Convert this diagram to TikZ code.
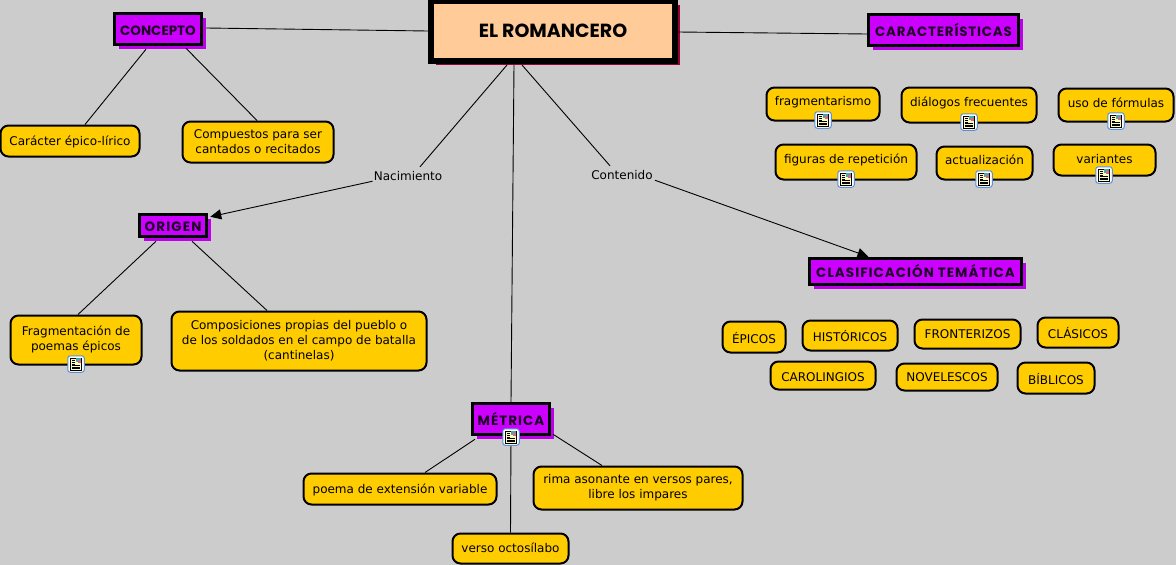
\documentclass[tikz,border=0pt]{standalone}
\usepackage{fontspec}
\setmainfont{DejaVu Sans}
\newfontfamily\titlefont{Poppins}
\usetikzlibrary{arrows.meta,shadows}
\definecolor{bgc}{HTML}{CCCCCC}
\definecolor{peach}{HTML}{FFCC99}
\definecolor{violet1}{HTML}{CC00FF}
\definecolor{gold}{HTML}{FFCC00}
\definecolor{crim}{HTML}{990033}
\definecolor{iconblue}{HTML}{5A8FD8}
\newcommand{\widen}[2]{{\addfontfeature{LetterSpace=#1}#2}}
\tikzset{
  x=1pt,y=-1pt,
  basebox/.style={inner sep=0pt,align=center,text height=10pt,text depth=0pt},
  rootbox/.style={basebox,draw=black,fill=peach,line width=6pt,sharp corners,
    text height=12pt,text depth=0pt,
    font=\titlefont\bfseries\fontsize{19}{20}\selectfont,
    general shadow={shadow xshift=4.5pt,shadow yshift=-4pt,fill=crim}},
  titlebox/.style={basebox,draw=black,fill=violet1,line width=3.5pt,
    text height=12pt,text depth=0pt,text=black!85!violet1,
    font=\titlefont\bfseries\fontsize{13.5}{16}\selectfont,
    general shadow={shadow xshift=4.5pt,shadow yshift=-4.5pt,fill=violet1!92!black}},
  leafbox/.style={basebox,draw=black,fill=gold,line width=2pt,rounded corners=8pt,
    font=\fontsize{12}{15}\selectfont},
  multiline/.style={text height=,text depth=},
  raised/.style={text depth=7pt},
  raisedmore/.style={text depth=8pt},
  raisedsix/.style={text depth=6pt},
  raisedfour/.style={text depth=4pt},
  upone/.style={text depth=2pt},
  downone/.style={text height=12pt},
  linklabel/.style={inner sep=0pt,font=\fontsize{12}{14}\selectfont,text height=10pt,text depth=0pt},
  conn/.style={draw=black,line width=0.9pt},
  arrowconn/.style={conn,-{Triangle[length=11pt,width=10pt]}},
  iconbox/.style={draw=iconblue,fill=white,line width=1pt,rounded corners=2.5pt,minimum width=16.5pt,minimum height=16.5pt,inner sep=0pt},
}
\newcommand{\areanode}[8]{%
  \pgfmathsetmacro{\nw}{#5-#3-#2}%
  \pgfmathsetmacro{\nh}{#6-#4-#2}%
  \pgfmathsetmacro{\nx}{(#3+#5)/2}%
  \pgfmathsetmacro{\ny}{(#4+#6)/2}%
  \node[#1,minimum width=\nw pt,minimum height=\nh pt] (#7) at (\nx,\ny) {#8};}
\newcommand{\leafnode}[7][]{\areanode{leafbox,#1}{1}{#3}{#4}{#5}{#6}{#2}{#7}}
\newcommand{\titlenode}[6]{\areanode{titlebox}{3}{#2}{#3}{#4}{#5}{#1}{#6}}
\newcommand{\docicon}[3]{%
  \node[iconbox] (#1) at (#2,#3) {};
  \begin{scope}[shift={(#2,#3)}]
    \filldraw[fill=yellow!25,draw=black,line width=.7pt] (-5.5,-6) rectangle (5.5,6);
    \fill[fill=teal!70] (0,-5.6) rectangle (5.1,-2.5);
    \fill[fill=purple!60] (2,-4) rectangle (5.1,-1);
    \draw[black,line width=.8pt] (-4,-4) -- (-1,-4) (-4,-2) -- (-1,-2) (-4,0) -- (-1,0) (-4,1.6) -- (4.2,1.6) (-4,3.1) -- (4.2,3.1) (-4,4.6) -- (4.2,4.6);
  \end{scope}}
\begin{document}
\begin{tikzpicture}
\useasboundingbox (0,0) rectangle (1176,565);
\fill[bgc] (0,0) rectangle (1176,565);
\clip (0,0) rectangle (1176,565);
\areanode{rootbox}{6}{428}{-2}{678}{64}{root}{EL ROMANCERO}
\titlenode{concepto}{113}{12}{203}{46}{CONCEPTO}
\titlenode{caract}{867}{13}{1020}{47}{\widen{5.6}{CARACTERÍSTICAS}}
\titlenode{origen}{138}{213}{208}{238}{\widen{8.6}{ORIGEN}}
\titlenode{clasif}{808}{257}{1023}{286}{\widen{7.5}{CLASIFICACIÓN TEMÁTICA}}
\titlenode{metrica}{471}{402}{551}{436}{\widen{7.4}{MÉTRICA}}
\leafnode[upone]{caracter}{0}{125}{140}{157}{Carácter épico-lírico}
\leafnode[multiline]{compuestos}{182}{121}{334}{163}{Compuestos para ser\\cantados o recitados}
\leafnode[multiline]{fragpoem}{10}{315}{142}{365}{Fragmentación de\\poemas épicos\\[-12pt]\mbox{}}
\leafnode[multiline]{compos}{171}{311}{427}{371}{Composiciones propias del pueblo o\\de los soldados en el campo de batalla\\(cantinelas)}
\leafnode[upone]{poema}{303}{473}{497}{505}{poema de extensión variable}
\leafnode[upone]{verso}{452}{533}{569}{564}{verso octosílabo}
\leafnode[multiline]{rima}{533}{466}{743}{510}{rima asonante en versos pares,\\libre los impares}
\leafnode[raisedmore]{fragm}{766}{87}{880}{121}{fragmentarismo}
\leafnode[raised]{dialogos}{901}{87}{1037}{123}{diálogos frecuentes}
\leafnode[raisedsix]{formulas}{1058}{88}{1174}{122}{uso de fórmulas}
\leafnode[raised]{figuras}{775}{144}{917}{180}{figuras de repetición}
\leafnode[raised]{actual}{936}{146}{1033}{180}{actualización}
\leafnode[raisedfour]{variantes}{1053}{144}{1156}{176}{variantes}
\leafnode[downone]{epicos}{722}{321}{786}{353}{ÉPICOS}
\leafnode[downone]{historicos}{802}{320}{898}{351}{HISTÓRICOS}
\leafnode[upone]{fronterizos}{914}{319}{1021}{349}{FRONTERIZOS}
\leafnode[downone]{clasicos}{1037}{317}{1119}{348}{CLÁSICOS}
\leafnode[downone]{carolingios}{770}{361}{876}{390}{CAROLINGIOS}
\leafnode[upone]{novelescos}{896}{363}{998}{391}{NOVELESCOS}
\leafnode[downone]{biblicos}{1017}{362}{1095}{394}{BÍBLICOS}
\node[linklabel] (nac) at (408,175) {Nacimiento};
\node[linklabel] (cont) at (622,174) {Contenido};
% connectors
\draw[conn] ([shift={(3,-1)}]concepto.east) -- ([shift={(0,0)}]root.west);
\draw[conn] ([shift={(0,1)}]root.east) -- ([shift={(0,4)}]caract.west);
\draw[conn] ([shift={(-12,3)}]concepto.south) -- ([shift={(15,0)}]caracter.north);
\draw[conn] ([shift={(28,2)}]concepto.south) -- ([shift={(-1,0)}]compuestos.north);
\draw[conn] ([shift={(-46,1)}]root.south) -- ([shift={(12,-3)}]nac.north);
\draw[arrowconn] ([shift={(-1,1)}]nac.south west) -- ([shift={(2,4)}]origen.north east);
\draw[conn] ([shift={(-17,3)}]origen.south) -- ([shift={(2,0)}]fragpoem.north);
\draw[conn] ([shift={(19,3)}]origen.south) -- ([shift={(-32,0)}]compos.north);
\draw[conn] ([shift={(-39,1)}]root.south) -- (metrica.north);
\draw[conn] ([shift={(-31,1)}]root.south) -- ([shift={(-12,-3)}]cont.north);
\draw[arrowconn] ([shift={(2,1)}]cont.south east) -- ([shift={(-47,0)}]clasif.north);
\draw[conn] ([shift={(-36,3)}]metrica.south) -- ([shift={(25,0)}]poema.north);
\draw[conn] (metrica.south) -- ([shift={(0,0)}]verso.north);
\draw[conn] ([shift={(42,-2)}]metrica.south) -- ([shift={(-36,0)}]rima.north);
% icons
\docicon{ic1}{823}{120}
\docicon{ic2}{969}{122}
\docicon{ic3}{1116}{121}
\docicon{ic4}{846}{179}
\docicon{ic5}{984}{179}
\docicon{ic6}{1104}{175}
\docicon{ic7}{76}{364}
\docicon{ic8}{511}{437}
\end{tikzpicture}
\end{document}
